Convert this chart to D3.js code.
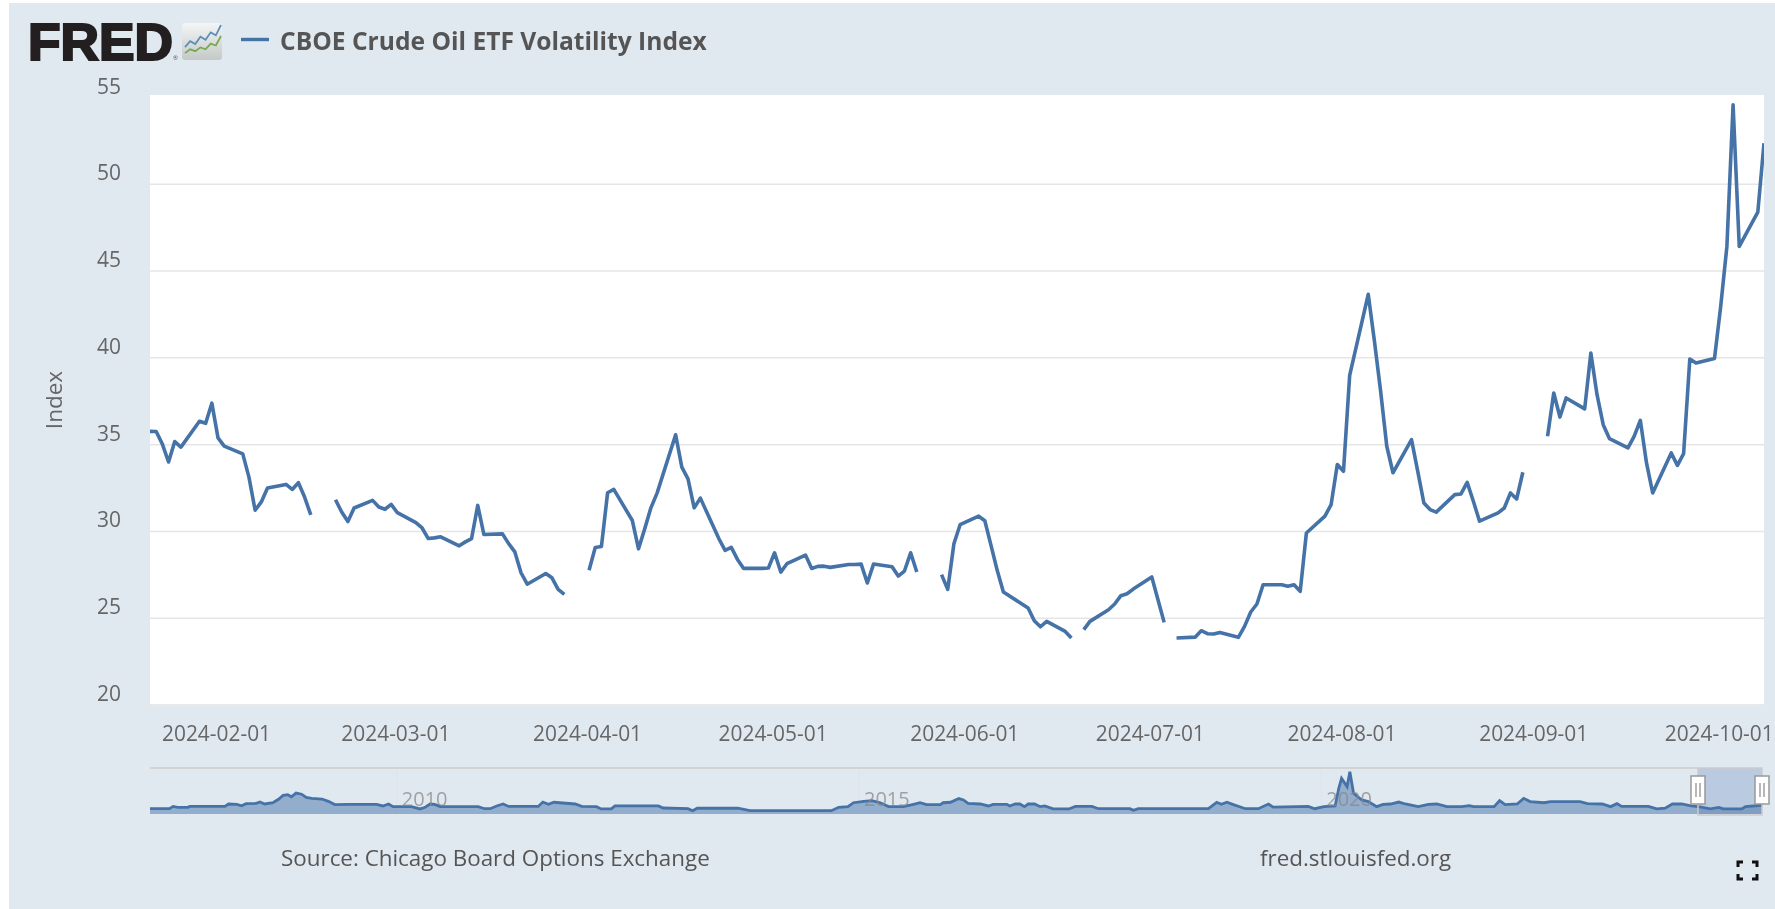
<!DOCTYPE html>
<html>
<head>
<meta charset="utf-8">
<script src="https://cdn.jsdelivr.net/npm/d3@7/dist/d3.min.js"></script>
<style>
html,body{margin:0;padding:0;background:#fff;overflow:hidden}
svg{display:block;filter:blur(0.5px)}
text{font-family:"Open Sans",sans-serif}
</style>
</head>
<body>
<svg id="chart" width="1775" height="909"></svg>
<script>
const seriesName = "CBOE Crude Oil ETF Volatility Index";
const yAxisTitle = "Index";
const sourceText = "Source: Chicago Board Options Exchange";
const siteText = "fred.stlouisfed.org";
const yTicks = [20,25,30,35,40,45,50,55];
const xTickDates = ["2024-02-01","2024-03-01","2024-04-01","2024-05-01","2024-06-01","2024-07-01","2024-08-01","2024-09-01","2024-10-01"];
const navTicks = [2010,2015,2020];

const dates = [
"2024-01-19","2024-01-22","2024-01-23","2024-01-24","2024-01-25","2024-01-26","2024-01-29","2024-01-30","2024-01-31",
"2024-02-01","2024-02-02","2024-02-05","2024-02-06","2024-02-07","2024-02-08","2024-02-09","2024-02-12","2024-02-13","2024-02-14","2024-02-15","2024-02-16","2024-02-19","2024-02-20","2024-02-21","2024-02-22","2024-02-23","2024-02-26","2024-02-27","2024-02-28","2024-02-29",
"2024-03-01","2024-03-04","2024-03-05","2024-03-06","2024-03-07","2024-03-08","2024-03-11","2024-03-12","2024-03-13","2024-03-14","2024-03-15","2024-03-18","2024-03-19","2024-03-20","2024-03-21","2024-03-22","2024-03-25","2024-03-26","2024-03-27","2024-03-28","2024-03-29",
"2024-04-01","2024-04-02","2024-04-03","2024-04-04","2024-04-05","2024-04-08","2024-04-09","2024-04-10","2024-04-11","2024-04-12","2024-04-15","2024-04-16","2024-04-17","2024-04-18","2024-04-19","2024-04-22","2024-04-23","2024-04-24","2024-04-25","2024-04-26","2024-04-29","2024-04-30",
"2024-05-01","2024-05-02","2024-05-03","2024-05-06","2024-05-07","2024-05-08","2024-05-09","2024-05-10","2024-05-13","2024-05-14","2024-05-15","2024-05-16","2024-05-17","2024-05-20","2024-05-21","2024-05-22","2024-05-23","2024-05-24","2024-05-27","2024-05-28","2024-05-29","2024-05-30","2024-05-31",
"2024-06-03","2024-06-04","2024-06-05","2024-06-06","2024-06-07","2024-06-10","2024-06-11","2024-06-12","2024-06-13","2024-06-14","2024-06-17","2024-06-18","2024-06-19","2024-06-20","2024-06-21","2024-06-24","2024-06-25","2024-06-26","2024-06-27","2024-06-28",
"2024-07-01","2024-07-02","2024-07-03","2024-07-04","2024-07-05","2024-07-08","2024-07-09","2024-07-10","2024-07-11","2024-07-12","2024-07-15","2024-07-16","2024-07-17","2024-07-18","2024-07-19","2024-07-22","2024-07-23","2024-07-24","2024-07-25","2024-07-26","2024-07-29","2024-07-30","2024-07-31",
"2024-08-01","2024-08-02","2024-08-05","2024-08-06","2024-08-07","2024-08-08","2024-08-09","2024-08-12","2024-08-13","2024-08-14","2024-08-15","2024-08-16","2024-08-19","2024-08-20","2024-08-21","2024-08-22","2024-08-23","2024-08-26","2024-08-27","2024-08-28","2024-08-29","2024-08-30",
"2024-09-02","2024-09-03","2024-09-04","2024-09-05","2024-09-06","2024-09-09","2024-09-10","2024-09-11","2024-09-12","2024-09-13","2024-09-16","2024-09-17","2024-09-18","2024-09-19","2024-09-20","2024-09-23","2024-09-24","2024-09-25","2024-09-26","2024-09-27","2024-09-30",
"2024-10-01","2024-10-02","2024-10-03","2024-10-04","2024-10-07","2024-10-08"];

const values = [
35.75,35.73,35.0,33.97,35.15,34.83,36.32,36.2,37.36,
35.36,34.89,34.44,33.1,31.19,31.67,32.47,32.68,32.39,32.78,31.95,30.92,null,31.8,31.09,30.54,31.32,31.76,31.38,31.25,31.53,
31.05,30.48,30.17,29.56,29.6,29.66,29.14,29.37,29.56,31.47,29.79,29.83,29.27,28.79,27.59,26.93,27.55,27.3,26.63,26.34,null,
27.73,29.05,29.1,32.2,32.39,30.6,28.97,30.12,31.33,32.18,35.54,33.68,33.0,31.33,31.89,29.55,28.88,29.05,28.36,27.84,27.84,27.86,
28.74,27.63,28.11,28.61,27.84,27.96,27.97,27.9,28.07,28.07,28.09,27.0,28.09,27.94,27.4,27.69,28.74,27.63,null,27.48,26.63,29.26,30.36,
30.85,30.59,29.17,27.73,26.48,25.79,25.56,24.83,24.48,24.79,24.21,23.83,null,24.31,24.79,25.46,25.79,26.27,26.38,26.65,
27.35,26.04,24.73,null,23.83,23.88,24.25,24.08,24.06,24.15,23.87,24.5,25.33,25.79,26.9,26.9,26.81,26.9,26.52,29.88,30.85,31.52,33.83,
33.44,38.96,43.63,40.94,38.06,34.88,33.35,35.26,33.44,31.61,31.23,31.08,32.09,32.13,32.8,31.71,30.56,31.04,31.32,32.19,31.84,33.38,
null,35.45,37.95,36.56,37.66,37.03,40.25,37.85,36.12,35.32,34.78,35.45,36.37,33.92,32.19,34.49,33.78,34.45,39.9,39.67,39.94,
42.94,46.39,54.55,46.39,48.37,52.34];

const navYears = [
2007.33,2007.54,2007.58,2007.63,2007.74,2007.76,2008.14,2008.18,2008.27,2008.32,2008.37,2008.48,2008.52,2008.57,2008.66,2008.72,2008.77,2008.82,2008.86,2008.91,2008.97,2009.02,2009.08,2009.19,2009.26,2009.33,2009.47,2009.78,2009.85,2009.91,2009.96,
2010.16,2010.25,2010.30,2010.36,2010.41,2010.47,2010.88,2010.95,2011.01,2011.08,2011.15,2011.21,2011.53,2011.58,2011.64,2011.70,2011.76,2011.93,2012.0,2012.16,2012.21,2012.32,2012.36,2012.83,2012.88,2013.15,2013.20,2013.25,2013.69,2013.82,2014.70,2014.78,2014.88,2014.94,
2015.05,2015.14,2015.23,2015.32,2015.48,2015.59,2015.66,2015.73,2015.88,2015.91,2015.99,2016.08,2016.13,2016.18,2016.31,2016.40,2016.45,2016.60,2016.63,2016.69,2016.74,2016.79,2016.83,2016.90,2016.96,
2017.01,2017.10,2017.27,2017.34,2017.52,2017.59,2017.93,2017.97,2018.02,2018.78,2018.87,2018.92,2018.98,2019.05,2019.18,2019.32,2019.43,2019.48,2019.86,2019.93,
2020.03,2020.15,2020.19,2020.22,2020.28,2020.31,2020.35,2020.44,2020.51,2020.60,2020.67,2020.75,2020.84,2020.91,2021.05,2021.16,2021.25,2021.36,2021.52,2021.60,2021.65,2021.87,2021.93,2021.99,
2022.12,2022.19,2022.26,2022.41,2022.48,2022.80,2022.88,2023.04,2023.13,2023.20,2023.25,2023.54,2023.63,2023.72,2023.80,2023.90,2024.0,2024.08,2024.21,2024.30,2024.35,2024.55,2024.59,2024.77];

const navValues = [
23,23,33,29,29,33,33,43.5,42,36,45,46,52,43.5,49,64,81,84,75,91,86,72,68,65,55,41,42,42,35,43.5,32,
32,22,28,43.5,42,32,32,23,23,35,43.5,33,33,52,42,51,49,43.5,33,32,22,22,35,35,26,23,14.5,25,25,14.5,14.5,29,32,49,
55,58,49,32,32,42,49,41,41,49,51,67,61,46,43.5,35,42,42,35,43.5,43.5,32,43.5,43.5,32,
35,22,22,33,33,23,23,16,23,23,51,42,51,41,23,23,43.5,30,33,23,
32,35,112,155,119,184,90,61,54,32,42,43.5,52,43.5,32,42,43.5,32,32,36,32,32,58,41,
43.5,68,54,49,54,54,45,43.5,32,45,33,33,22,25,43.5,43.5,35,32,22,29,22,22,32,38];

const iconBlue = [2,6,4,9,7,12,10,17];
const iconGreen = [1,3,2,4,3,6,5,10];

const W = 1775, H = 909;
const plot = {left:150, right:1764, top:97, bottom:704.5};
const nav = {left:150, right:1764, top:768, bottom:814, selL:1698, selR:1762};
const BG = "#e1e9f0", BLUE = "#4572a7", GREY = "#666";
const parse = d3.utcParse("%Y-%m-%d");
const svg = d3.select("#chart");

svg.append("rect").attr("x",9).attr("y",3).attr("width",W-9).attr("height",H-3).attr("fill",BG);
svg.append("rect").attr("x",plot.left).attr("y",95).attr("width",plot.right-plot.left).attr("height",plot.bottom-95).attr("fill","#fff");

// scales
const x = d3.scaleUtc().domain([parse("2024-01-21"),parse("2024-10-08")]).range([plot.left,plot.right]);
const y = d3.scaleLinear().domain([20,55]).range([plot.bottom,plot.top]);
const nx = d3.scaleLinear().domain([2007.33,2024.79]).range([nav.left,nav.right]);
const ny = d3.scaleLinear().domain([0,200]).range([nav.bottom,nav.top]);

// y axis + gridlines
const yG = svg.append("g").attr("transform",`translate(${plot.left},0)`)
  .call(d3.axisLeft(y).tickValues(yTicks).tickSize(-(plot.right-plot.left)).tickPadding(29));
yG.select(".domain").remove();
yG.selectAll("line").attr("stroke",d=>d===55?"none":"#e6e6e6").attr("stroke-width",1.5);
yG.selectAll("text").attr("fill",GREY).attr("font-size",21).attr("dy",-4).attr("text-anchor","end");

// x axis
const xG = svg.append("g").attr("transform",`translate(0,${plot.bottom})`)
  .call(d3.axisBottom(x).tickValues(xTickDates.map(parse)).tickFormat(d3.utcFormat("%Y-%m-%d")).tickSize(0).tickPadding(22));
xG.select(".domain").remove();
xG.selectAll("text").attr("fill",GREY).attr("font-size",20.9).attr("dx",-2);

// axis title
svg.append("text").attr("transform","translate(53,400) rotate(-90)").attr("text-anchor","middle")
  .attr("dominant-baseline","central").attr("fill",GREY).attr("font-size",22.5).text(yAxisTitle);

// main series
const pts = dates.map((d,i)=>({d:parse(d),v:values[i]}));
svg.append("clipPath").attr("id","pc").append("rect").attr("x",plot.left).attr("y",plot.top-3).attr("width",plot.right-plot.left).attr("height",plot.bottom-plot.top+6);
svg.append("path").datum(pts).attr("clip-path","url(#pc)").attr("fill","none").attr("stroke",BLUE)
  .attr("stroke-width",3.6).attr("stroke-linejoin","round")
  .attr("d",d3.line().defined(p=>p.v!==null).x(p=>x(p.d)).y(p=>y(p.v)));

// navigator
const navPts = navYears.map((t,i)=>({t,v:navValues[i]}));
svg.append("rect").attr("x",nav.selL).attr("y",nav.top).attr("width",nav.selR-nav.selL).attr("height",nav.bottom-nav.top).attr("fill","#bacae1");
navTicks.forEach(t=>{
  svg.append("line").attr("x1",nx(t)).attr("x2",nx(t)).attr("y1",nav.top).attr("y2",nav.bottom).attr("stroke","#dfe3e8");
});
svg.append("path").datum(navPts).attr("fill",BLUE).attr("fill-opacity",.5)
  .attr("d",d3.area().x(p=>nx(p.t)).y0(nav.bottom).y1(p=>ny(p.v)));
svg.append("path").datum(navPts).attr("fill","none").attr("stroke",BLUE).attr("stroke-width",2.8)
  .attr("d",d3.line().x(p=>nx(p.t)).y(p=>ny(p.v)));
navTicks.forEach(t=>{
  svg.append("text").attr("x",nx(t)+5).attr("y",806).attr("fill","#888").attr("fill-opacity",.75).attr("font-size",20).text(t);
});
svg.append("path").attr("fill","none").attr("stroke","#ccc").attr("stroke-width",1.5)
  .attr("d",`M${nav.left},${nav.top}H${nav.selR}V${nav.bottom+1}H${nav.selL}V${nav.top}`);
[nav.selL,nav.selR].forEach(cx=>{
  const g = svg.append("g").attr("transform",`translate(${cx},776)`);
  g.append("rect").attr("x",-7).attr("y",0).attr("width",14).attr("height",28).attr("fill","#fff").attr("stroke","#999").attr("stroke-width",1.5);
  [-2,2].forEach(dx=>g.append("line").attr("x1",dx).attr("x2",dx).attr("y1",7).attr("y2",21).attr("stroke","#888").attr("stroke-width",1.2));
});

// logo
const logo = svg.append("g");
logo.append("text").attr("x",28).attr("y",60).attr("font-weight",700)
  .attr("font-size",51.5).attr("fill","#231f20").attr("stroke","#231f20").attr("stroke-width",2.2)
  .attr("textLength",145).attr("lengthAdjust","spacingAndGlyphs").style("font-family","'Liberation Sans',Arial,sans-serif").text("FRED");
logo.append("text").attr("x",173).attr("y",60).attr("font-size",6).attr("fill","#555").text("®");
const grad = svg.append("defs").append("linearGradient").attr("id","ig").attr("x1",0).attr("x2",0).attr("y1",0).attr("y2",1);
grad.append("stop").attr("offset",0).attr("stop-color","#f4f6f6");
grad.append("stop").attr("offset",1).attr("stop-color","#c4c8c7");
logo.append("rect").attr("x",182).attr("y",23).attr("width",40).attr("height",37).attr("rx",3).attr("fill","url(#ig)");
const iconX = d3.scaleLinear().domain([0,7]).range([185,221]);
const iconY = d3.scaleLinear().domain([0,17]).range([50,25]);
logo.append("path").datum(iconBlue).attr("fill","none").attr("stroke","#5c90b8").attr("stroke-width",1.8)
  .attr("d",d3.line().x((_,i)=>iconX(i)).y(v=>iconY(v)));
const iconGY = d3.scaleLinear().domain([0,10]).range([55,36]);
logo.append("path").datum(iconGreen).attr("fill","none").attr("stroke","#78a950").attr("stroke-width",1.8)
  .attr("d",d3.line().x((_,i)=>iconX(i)).y(v=>iconGY(v)));

// legend
svg.append("line").attr("x1",241).attr("x2",269).attr("y1",39.5).attr("y2",39.5).attr("stroke",BLUE).attr("stroke-width",3.4);
svg.append("text").attr("x",280).attr("y",50).attr("font-weight",700).attr("font-size",24.6).attr("fill","#555").text(seriesName);

// footer
svg.append("text").attr("x",281).attr("y",866).attr("fill","#555").attr("font-size",22.4).text(sourceText);
svg.append("text").attr("x",1260).attr("y",866).attr("fill","#555").attr("font-size",22.4).text(siteText);

// fullscreen icon
const fs = svg.append("g").attr("fill","none").attr("stroke","#111").attr("stroke-width",3);
[[1738,862,1,1],[1757,862,-1,1],[1738,879,1,-1],[1757,879,-1,-1]].forEach(c=>{
  fs.append("path").attr("d",`M${c[0]},${c[1]+5*c[3]}V${c[1]}H${c[0]+5*c[2]}`);
});
</script>
</body>
</html>
